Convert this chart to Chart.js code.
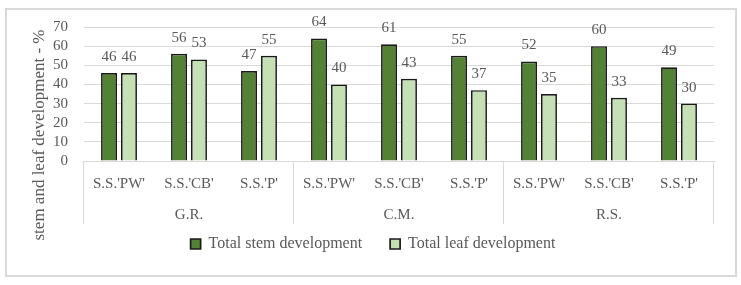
<!DOCTYPE html>
<html>
<head>
<meta charset="utf-8">
<script src="https://cdn.jsdelivr.net/npm/chart.js@4"></script>
<style>
  html, body { margin: 0; padding: 0; background: #ffffff; }
  #wrap { position: relative; width: 741px; height: 285px; }
  #frame { position: absolute; left: 5px; top: 8px; width: 728px; height: 265px;
           border: 2px solid #d9d9d9; pointer-events: none; }
</style>
</head>
<body>
<div id="wrap">
  <canvas id="grafico"></canvas>
  <div id="frame"></div>
</div>
<script>
// data
const grupos = ["G.R.", "C.M.", "R.S."];
const variedades = ["S.S.'PW'", "S.S.'CB'", "S.S.'P'"];
const tallo = [46, 56, 47, 64, 61, 55, 52, 60, 49];
const hoja = [46, 53, 55, 40, 43, 37, 35, 33, 30];
const series = ["Total stem development", "Total leaf development"];
const ejeY = { min: 0, max: 70, paso: 10 };
const tituloY = "stem and leaf development - %";

const categorias = grupos.flatMap(() => variedades);
const gris = "#595959";
const linea = "#d9d9d9";
const fuente = "'Liberation Serif', 'Times New Roman', serif";

// numbers over the bars
const etiquetas = {
  id: "etiquetas",
  afterDatasetsDraw(chart) {
    const ctx = chart.ctx;
    ctx.save();
    ctx.font = "15px " + fuente;
    ctx.fillStyle = gris;
    ctx.textAlign = "center";
    ctx.textBaseline = "middle";
    chart.data.datasets.forEach((ds, i) => {
      chart.getDatasetMeta(i).data.forEach((bar, j) => {
        ctx.fillText(ds.data[j], bar.x, bar.y - 16);
      });
    });
    ctx.restore();
  }
};

// legend sits a bit closer to the group labels (and centred on the page)
const leyenda = {
  id: "leyenda",
  afterLayout(chart) {
    chart.legend.top -= 18;
    chart.legend.bottom -= 18;
    chart.legend.left += 16;
    chart.legend.right += 16;
  }
};

// vertical lines between the groups + rotated axis title
const separadores = {
  id: "separadores",
  afterDraw(chart) {
    const ctx = chart.ctx;
    const x = chart.scales.x;
    const x2 = chart.scales.x2;
    const paso = x.width / categorias.length;
    ctx.save();
    ctx.strokeStyle = linea;
    ctx.lineWidth = 1;
    for (let k = 0; k <= grupos.length; k++) {
      const px = Math.round(x.left + k * variedades.length * paso) - 0.5;
      ctx.beginPath();
      ctx.moveTo(px, x.top);
      ctx.lineTo(px, x2.bottom - 2);
      ctx.stroke();
    }
    ctx.font = "17px " + fuente;
    ctx.fillStyle = gris;
    ctx.textAlign = "center";
    ctx.textBaseline = "middle";
    ctx.translate(40, 135);
    ctx.rotate(-Math.PI / 2);
    ctx.fillText(tituloY, 0, 0);
    ctx.restore();
  }
};

const grafico = new Chart(document.getElementById("grafico"), {
  type: "bar",
  data: {
    labels: categorias,
    datasets: [
      {
        label: series[0],
        data: tallo,
        backgroundColor: "#548235",
        borderColor: "#1a1a1a",
        borderWidth: 1.7,
        categoryPercentage: 0.57,
        barPercentage: 0.8
      },
      {
        label: series[1],
        data: hoja,
        backgroundColor: "#c5e0b4",
        borderColor: "#1a1a1a",
        borderWidth: 1.7,
        categoryPercentage: 0.57,
        barPercentage: 0.8
      }
    ]
  },
  options: {
    responsive: true,
    maintainAspectRatio: false,
    animation: false,
    layout: { padding: { top: 27, right: 27, bottom: 5, left: 0 } },
    plugins: {
      tooltip: { enabled: false },
      legend: {
        position: "bottom",
        labels: {
          color: gris,
          font: { family: fuente, size: 16 },
          boxWidth: 10,
          boxHeight: 10,
          padding: 28
        }
      }
    },
    scales: {
      x: {
        weight: 0,
        grid: { display: false, drawTicks: false },
        border: { display: true, color: linea, width: 1 },
        ticks: { color: gris, font: { family: fuente, size: 15 }, padding: 14, maxRotation: 0, autoSkip: false },
        afterFit(s) { s.height = 37; }
      },
      x2: {
        type: "category",
        position: "bottom",
        weight: 1,
        labels: grupos,
        offset: true,
        grid: { display: false, drawTicks: false },
        border: { display: false },
        ticks: { color: gris, font: { family: fuente, size: 15 }, padding: 8 },
        afterFit(s) { s.height = 28; }
      },
      y: {
        min: ejeY.min,
        max: ejeY.max,
        ticks: { stepSize: ejeY.paso, autoSkip: false, color: gris, font: { family: fuente, size: 15 }, padding: 16 },
        grid: { color: linea, lineWidth: 1, drawTicks: false },
        border: { display: false },
        afterFit(s) { s.width = 84; }
      }
    }
  },
  plugins: [etiquetas, leyenda, separadores]
});
</script>
</body>
</html>
